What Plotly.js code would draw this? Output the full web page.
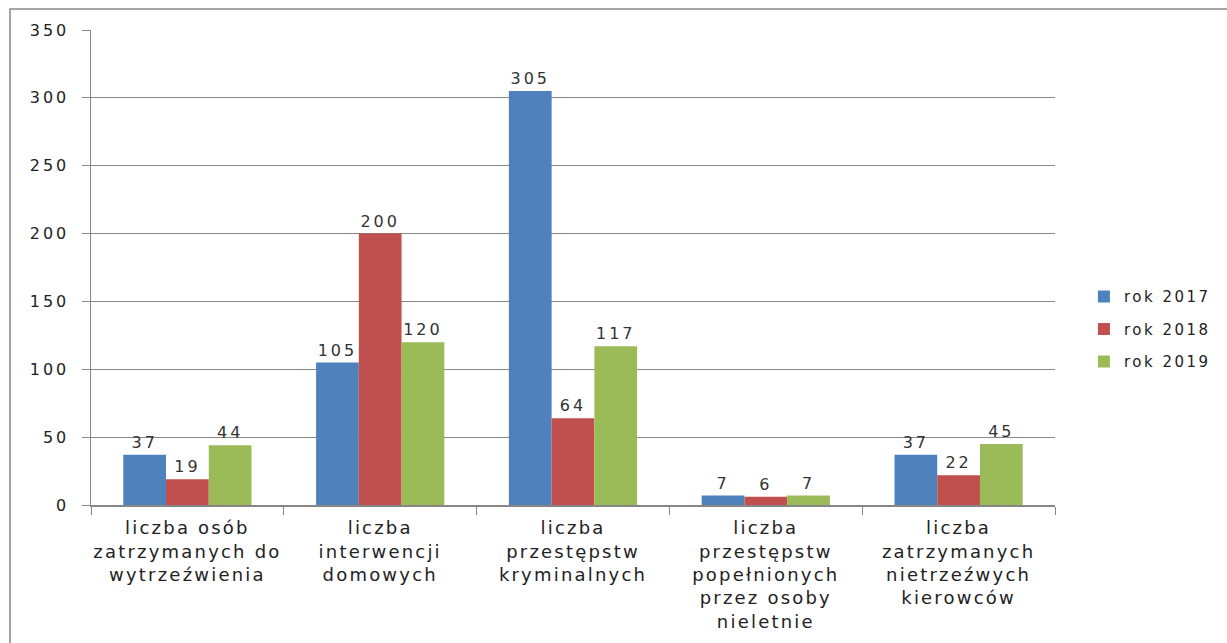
<!DOCTYPE html>
<html>
<head>
<meta charset="utf-8">
<script src="https://cdn.plot.ly/plotly-3.0.1.min.js"></script>
<style>
html,body{margin:0;padding:0;background:#fff;}
#chart{width:1227px;height:643px;}
#chart .xtick text{letter-spacing:2.2px;}
#chart .ytick text{letter-spacing:3px;}
#chart text.bartext{letter-spacing:3px;}
#chart .legendtext{letter-spacing:2.5px;}
#chart .legend .scrollbox{clip-path:none !important;}
</style>
</head>
<body>
<div id="chart"></div>
<script>
const categories = [
  "liczba osób<br>zatrzymanych do<br>wytrzeźwienia",
  "liczba<br>interwencji<br>domowych",
  "liczba<br>przestępstw<br>kryminalnych",
  "liczba<br>przestępstw<br>popełnionych<br>przez osoby<br>nieletnie",
  "liczba<br>zatrzymanych<br>nietrzeźwych<br>kierowców"
];
const seriesNames = ["rok 2017", "rok 2018", "rok 2019"];
const values2017 = [37, 105, 305, 7, 37];
const values2018 = [19, 200, 64, 6, 22];
const values2019 = [44, 120, 117, 7, 45];
const colors = ["#4F81BD", "#C0504D", "#9BBB59"];

const allValues = [values2017, values2018, values2019];
const font = "DejaVu Sans, Verdana, sans-serif";
const traces = allValues.map((vals, i) => ({
  type: "bar",
  name: seriesNames[i],
  legendgroup: "g" + i,
  x: categories,
  y: vals,
  marker: {color: colors[i], line: {width: 10, color: "rgba(0,0,0,0)"}},
  text: vals.map(String),
  textposition: "outside",
  constraintext: "none",
  textfont: {family: font, size: 16, color: "#333333"},
  cliponaxis: false
}));

const layout = {
  width: 1227, height: 643,
  margin: {l: 91, r: 172, t: 30, b: 138},
  paper_bgcolor: "#ffffff",
  plot_bgcolor: "#ffffff",
  barmode: "group",
  bargap: 0.335,
  bargroupgap: 0,
  showlegend: true,
  legend: {
    x: 1.03, xanchor: "left", y: 0.37, yanchor: "middle",
    font: {family: font, size: 15, color: "#222"},
    tracegroupgap: 10, itemwidth: 30
  },
  xaxis: {
    type: "category",
    showline: true, linecolor: "#868686", linewidth: 1.5,
    ticks: "outside", tickson: "boundaries", ticklen: 8, tickcolor: "#868686",
    tickfont: {family: font, size: 18, color: "#222"},
    showgrid: false, automargin: false, ticklabelstandoff: 6
  },
  yaxis: {
    range: [0, 350], dtick: 50,
    showline: true, linecolor: "#868686", linewidth: 1.5,
    ticks: "outside", ticklen: 8, tickcolor: "#868686",
    gridcolor: "#888888", gridwidth: 1,
    tickfont: {family: font, size: 16, color: "#222"},
    zeroline: false, automargin: false, ticklabelstandoff: 9
  },
  shapes: [{
    type: "rect", xref: "paper", yref: "paper",
    x0: (10 - 91) / 964, x1: (1240 - 91) / 964,
    y0: -(660 - 505) / 475, y1: (505 - 9) / 475,
    line: {color: "#888888", width: 1.5}, fillcolor: "rgba(0,0,0,0)", layer: "below"
  }]
};

Plotly.newPlot("chart", traces, layout, {displayModeBar: false, staticPlot: true});
</script>
</body>
</html>
